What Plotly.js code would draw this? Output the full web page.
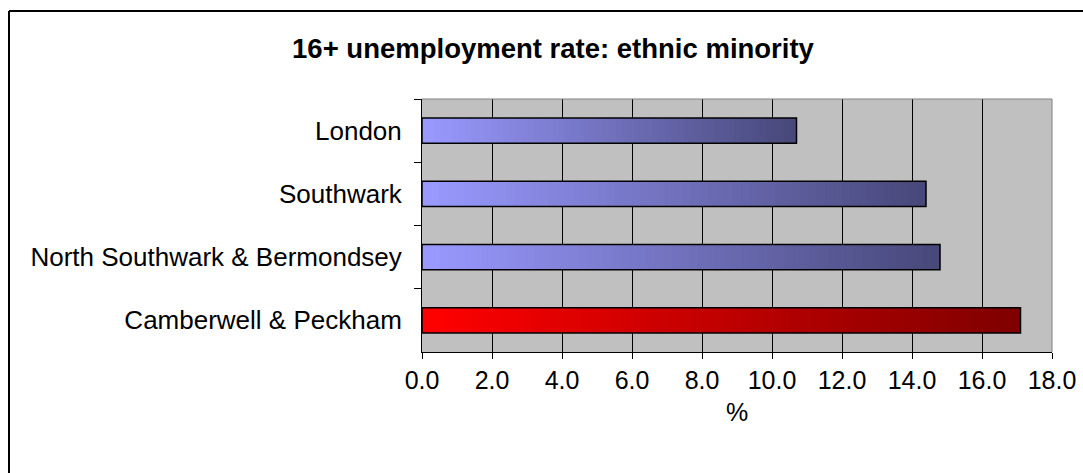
<!DOCTYPE html>
<html>
<head>
<meta charset="utf-8">
<script src="https://cdn.plot.ly/plotly-3.0.1.min.js"></script>
<style>
html,body{margin:0;padding:0;background:#fff;}
#chart{width:1083px;height:473px;}
</style>
</head>
<body>
<div id="chart"></div>
<script>
const categories = ["London", "Southwark", "North Southwark & Bermondsey", "Camberwell & Peckham"];
const values = [10.7, 14.4, 14.8, 17.1];
const highlighted = [false, false, false, true];
const xTicks = [0, 2, 4, 6, 8, 10, 12, 14, 16, 18];
const chartTitle = "16+ unemployment rate: ethnic minority";
const xTitle = "%";

const FONT = "'Liberation Sans', Arial, sans-serif";
const blueFrom = [153, 153, 255], blueTo = [72, 72, 122];
const redFrom = [255, 0, 0], redTo = [128, 0, 0];

function mix(a, b, t) {
  return "rgb(" + a.map((v, i) => Math.round(v + (b[i] - v) * t)).join(",") + ")";
}

const N = 60;
const traces = [];
for (let k = 0; k < N; k++) {
  const t = k / (N - 1);
  traces.push({
    type: "bar",
    orientation: "h",
    y: categories,
    x: values.map(v => v * (1 - k / N)),
    base: values.map(v => v * k / N),
    width: 0.4,
    marker: {
      color: highlighted.map(h => h ? mix(redFrom, redTo, t) : mix(blueFrom, blueTo, t)),
      line: {width: 0}
    },
    hoverinfo: "skip",
    showlegend: false
  });
}
traces.push({
  type: "bar",
  orientation: "h",
  y: categories,
  x: values,
  width: 0.4,
  marker: {color: "rgba(0,0,0,0)", line: {color: "#000", width: 1.5}},
  showlegend: false
});

const L = 422, R = 1052, T = 98.5, B = 352, W = 1083, H = 473;
const pw = R - L, ph = B - T;
const px = x => (x - L) / pw;
const py = y => (B - y) / ph;

const layout = {
  width: W, height: H,
  margin: {l: L, r: W - R, t: T, b: H - B, pad: 0},
  paper_bgcolor: "#ffffff",
  plot_bgcolor: "#c0c0c0",
  barmode: "overlay",
  font: {family: FONT, color: "#000", size: 25},
  title: {
    text: "<b>" + chartTitle + "</b>",
    font: {family: FONT, size: 27.5, color: "#000"},
    xref: "paper", x: px(553), xanchor: "center",
    yref: "container", y: 1 - 48 / H, yanchor: "middle"
  },
  xaxis: {
    range: [0, 18],
    tickvals: xTicks,
    ticktext: xTicks.map(v => v.toFixed(1)),
    showgrid: true, gridcolor: "#000", gridwidth: 1,
    showline: true, linecolor: "#000", linewidth: 1,
    ticks: "outside", ticklen: 6, tickcolor: "#000",
    tickfont: {family: FONT, size: 25, color: "#000"},
    zeroline: false,
    title: {text: xTitle, font: {family: FONT, size: 25, color: "#000"}, standoff: 10},
    mirror: false, fixedrange: true
  },
  yaxis: {
    type: "category",
    autorange: "reversed",
    showline: true, linecolor: "#000", linewidth: 1,
    ticks: "outside", ticklen: 7, tickcolor: "#000",
    tickson: "boundaries",
    showgrid: false,
    tickfont: {family: FONT, size: 26, color: "#000"},
    ticklabelstandoff: 14,
    fixedrange: true
  },
  shapes: [
    {type: "line", xref: "paper", yref: "paper", x0: 1, x1: 1, y0: 0, y1: 1, line: {color: "#808080", width: 1}},
    {type: "line", xref: "paper", yref: "paper", x0: 0, x1: 1, y0: 1, y1: 1, line: {color: "#808080", width: 1}},
    {type: "line", xref: "paper", yref: "paper", x0: px(9), x1: px(W + 2), y0: py(10.3), y1: py(10.3), line: {color: "#000", width: 2}},
    {type: "line", xref: "paper", yref: "paper", x0: px(9), x1: px(9), y0: py(10.3), y1: py(H + 2), line: {color: "#000", width: 2}}
  ]
};

Plotly.newPlot("chart", traces, layout, {staticPlot: true, displayModeBar: false});
</script>
</body>
</html>
